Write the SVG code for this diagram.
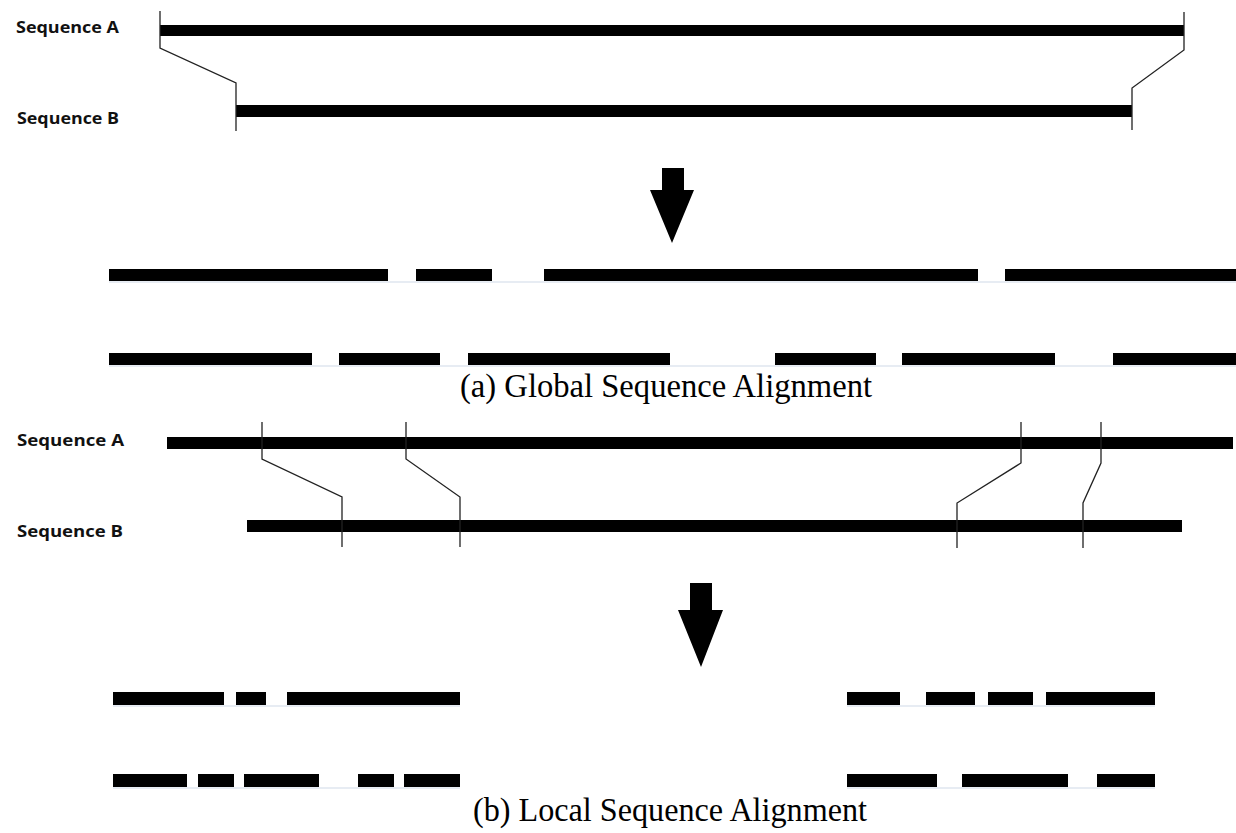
<svg xmlns="http://www.w3.org/2000/svg" width="1236" height="833" viewBox="0 0 1236 833">
<style>
.bar{fill:#000}
.lbl{font-family:"Open Sans","Liberation Sans",sans-serif;font-weight:bold;font-size:16px;fill:#111}
.cap{font-family:"Liberation Serif","Times New Roman",serif;font-size:34px;fill:#000}
.tick{fill:none;stroke:#222;stroke-width:1.3}
.faint{stroke:#dfe6ef;stroke-width:1.5}
</style>
<rect width="1236" height="833" fill="#fff"/>
<g id="global">
<g id="g-seqA-label"><text class="lbl" x="16" y="33" textLength="103" lengthAdjust="spacingAndGlyphs">Sequence A</text></g>
<g id="g-seqB-label"><text class="lbl" x="17" y="124" textLength="102" lengthAdjust="spacingAndGlyphs">Sequence B</text></g>
<g id="g-seqA"><rect class="bar" x="160" y="25" width="1024" height="11"/></g>
<g id="g-seqB"><rect class="bar" x="236" y="105" width="896" height="12"/></g>
<g id="g-arrow"><path d="M662 168 H684 V190 H694 L672 243 L650 190 H662 Z" fill="#000"/></g>
<g id="g-row1">
<line class="faint" x1="109" y1="282" x2="1236" y2="282"/>
<rect class="bar" x="109" y="269" width="279" height="12"/>
<rect class="bar" x="416" y="269" width="76" height="12"/>
<rect class="bar" x="544" y="269" width="434" height="12"/>
<rect class="bar" x="1005" y="269" width="231" height="12"/>
</g>
<g id="g-row2">
<line class="faint" x1="109" y1="366" x2="1236" y2="366"/>
<rect class="bar" x="109" y="353" width="203" height="12"/>
<rect class="bar" x="339" y="353" width="101" height="12"/>
<rect class="bar" x="468" y="353" width="202" height="12"/>
<rect class="bar" x="775" y="353" width="101" height="12"/>
<rect class="bar" x="902" y="353" width="153" height="12"/>
<rect class="bar" x="1113" y="353" width="123" height="12"/>
</g>
<g id="g-caption"><text class="cap" x="460" y="397" textLength="412" lengthAdjust="spacingAndGlyphs">(a) Global Sequence Alignment</text></g>
</g>
<g id="local">
<g id="l-seqA-label"><text class="lbl" x="17" y="446" textLength="107" lengthAdjust="spacingAndGlyphs">Sequence A</text></g>
<g id="l-seqB-label"><text class="lbl" x="17" y="537" textLength="106" lengthAdjust="spacingAndGlyphs">Sequence B</text></g>
<g id="l-seqA"><rect class="bar" x="167" y="437" width="1066" height="12"/></g>
<g id="l-seqB"><rect class="bar" x="247" y="520" width="935" height="12"/></g>
<g id="l-arrow"><path d="M690 583 H712 V610 H723 L701 667 L678 610 H690 Z" fill="#000"/></g>
<g id="l-row1">
<line class="faint" x1="113" y1="706" x2="460" y2="706"/>
<line class="faint" x1="847" y1="706" x2="1155" y2="706"/>
<rect class="bar" x="113" y="692" width="111" height="13"/>
<rect class="bar" x="236" y="692" width="30" height="13"/>
<rect class="bar" x="287" y="692" width="173" height="13"/>
<rect class="bar" x="847" y="692" width="53" height="13"/>
<rect class="bar" x="926" y="692" width="49" height="13"/>
<rect class="bar" x="988" y="692" width="45" height="13"/>
<rect class="bar" x="1046" y="692" width="109" height="13"/>
</g>
<g id="l-row2">
<line class="faint" x1="113" y1="788" x2="460" y2="788"/>
<line class="faint" x1="847" y1="788" x2="1155" y2="788"/>
<rect class="bar" x="113" y="774" width="74" height="13"/>
<rect class="bar" x="198" y="774" width="36" height="13"/>
<rect class="bar" x="244" y="774" width="75" height="13"/>
<rect class="bar" x="358" y="774" width="36" height="13"/>
<rect class="bar" x="404" y="774" width="56" height="13"/>
<rect class="bar" x="847" y="774" width="90" height="13"/>
<rect class="bar" x="962" y="774" width="106" height="13"/>
<rect class="bar" x="1097" y="774" width="58" height="13"/>
</g>
<g id="l-caption"><text class="cap" x="473" y="821" textLength="394" lengthAdjust="spacingAndGlyphs">(b) Local Sequence Alignment</text></g>
</g>
<g id="connectors">
<polyline class="tick" points="160,11 160,48 236,83 236,131"/>
<polyline class="tick" points="1184,12 1184,50 1132,88 1132,130"/>
<polyline class="tick" points="262,422 262,459 342,497 342,547"/>
<polyline class="tick" points="406,422 406,459 460,497 460,547"/>
<polyline class="tick" points="1021,422 1021,463 957,503 957,548"/>
<polyline class="tick" points="1101,422 1101,463 1083,503 1083,548"/>
</g>
</svg>
